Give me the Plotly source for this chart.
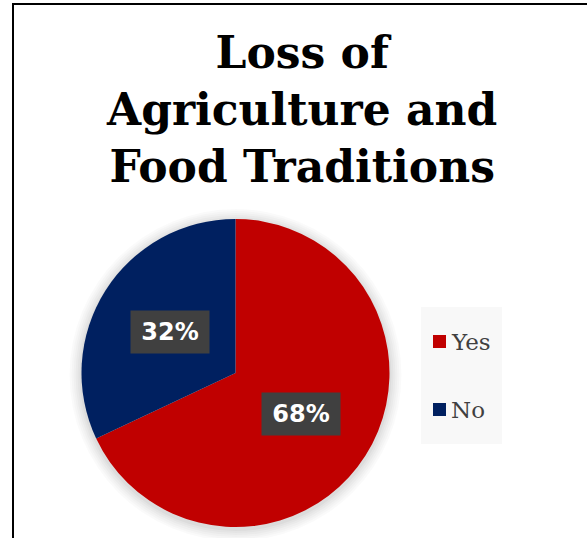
import math
import plotly.graph_objects as go

# Survey answers
labels = ["Yes", "No"]
values = [68, 32]
colors = ["#C00000", "#002060"]
title_lines = ["Loss of", "Agriculture and", "Food Traditions"]

W, H = 587, 538

# pie geometry in pixels
cx, cy, r = 235.5, 373.0, 154.0


def px_x(x):
    return x / W


def px_y(y):
    return 1 - y / H


fig = go.Figure()
fig.add_trace(go.Pie(
    labels=labels,
    values=values,
    sort=False,
    direction="clockwise",
    rotation=0,
    marker=dict(colors=colors, line=dict(width=0)),
    textinfo="none",
    hoverinfo="label+percent",
    showlegend=False,
    domain=dict(x=[px_x(cx - r), px_x(cx + r)], y=[px_y(cy + r), px_y(cy - r)]),
))

shapes = []
# soft glow around the pie
for i, a in enumerate([0.018, 0.018, 0.02, 0.022, 0.025, 0.03]):
    rr = r + 12 - 2 * i
    shapes.append(dict(type="circle", xref="paper", yref="paper",
                       x0=px_x(cx - rr), x1=px_x(cx + rr),
                       y0=px_y(cy + rr + 2), y1=px_y(cy - rr + 2),
                       fillcolor=f"rgba(0,0,0,{a})", line=dict(width=0), layer="below"))

# chart frame
shapes.append(dict(type="rect", xref="paper", yref="paper",
                   x0=px_x(13), x1=px_x(W + 20), y0=px_y(H + 20), y1=px_y(4),
                   line=dict(color="black", width=2), fillcolor="rgba(0,0,0,0)"))

# legend panel
shapes.append(dict(type="rect", xref="paper", yref="paper",
                   x0=px_x(421), x1=px_x(502), y0=px_y(444), y1=px_y(307),
                   fillcolor="#F8F8F8", line=dict(width=0), layer="below"))

annotations = []
# title
annotations.append(dict(
    text="<br>".join(title_lines), xref="paper", yref="paper",
    x=px_x(301), y=px_y(25), xanchor="center", yanchor="top", showarrow=False,
    font=dict(family="DejaVu Serif", size=44, color="black", weight="bold"),
))

# percentage labels placed at half radius along each slice's mid-angle
total = sum(values)
start = 0.0
for lab, v in zip(labels, values):
    frac = v / total
    mid = (start + frac / 2) * 2 * math.pi
    start += frac
    lx = cx + 0.5 * r * math.sin(mid)
    ly = cy - 0.5 * r * math.cos(mid)
    annotations.append(dict(
        text=f"{round(100 * frac)}%", xref="paper", yref="paper",
        x=px_x(lx), y=px_y(ly), xanchor="center", yanchor="middle", showarrow=False,
        width=76, height=40, bgcolor="#404040",
        font=dict(family="DejaVu Sans", size=24, color="white", weight="bold"),
    ))

# legend entries
for i, (lab, col) in enumerate(zip(labels, colors)):
    yc = 341.5 + 68 * i
    shapes.append(dict(type="rect", xref="paper", yref="paper",
                       x0=px_x(433), x1=px_x(446), y0=px_y(yc + 6.5), y1=px_y(yc - 6.5),
                       fillcolor=col, line=dict(width=0)))
    annotations.append(dict(
        text=lab, xref="paper", yref="paper", x=px_x(449), y=px_y(yc),
        xanchor="left", yanchor="middle", showarrow=False,
        font=dict(family="DejaVu Serif", size=23, color="#404040"),
    ))

fig.update_layout(
    width=W, height=H,
    margin=dict(l=0, r=0, t=0, b=0),
    paper_bgcolor="white",
    plot_bgcolor="white",
    shapes=shapes,
    annotations=annotations,
)

fig.write_html("out.html")
